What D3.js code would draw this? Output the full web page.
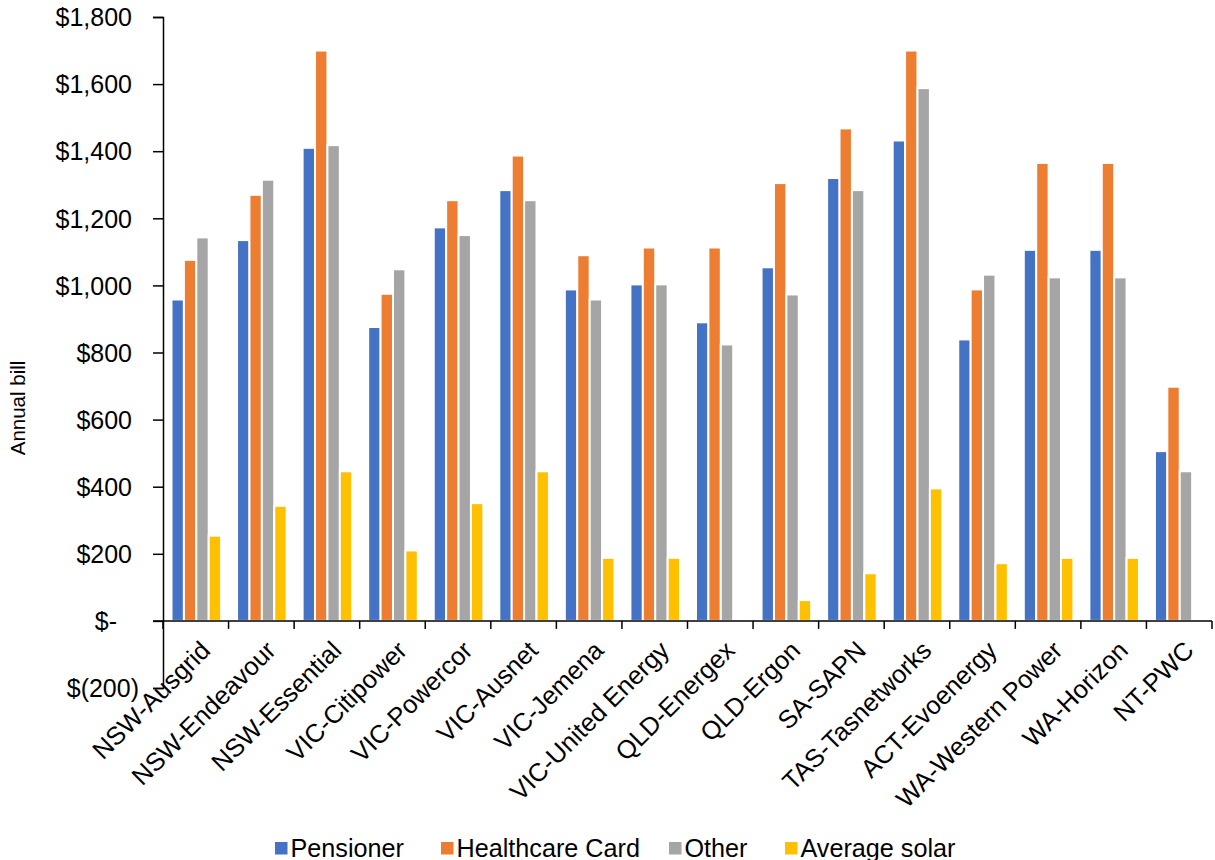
<!DOCTYPE html>
<html>
<head>
<meta charset="utf-8">
<script src="https://cdn.jsdelivr.net/npm/d3@7"></script>
<style>
  html, body { margin: 0; padding: 0; background: #fff; }
  svg { display: block; }
  text { font-family: "Liberation Sans", Arial, Helvetica, sans-serif; fill: #000; }
</style>
</head>
<body>
<div id="chart"></div>
<script>
// Annual electricity bill by network region and customer type
const categories = [
  "NSW-Ausgrid", "NSW-Endeavour", "NSW-Essential", "VIC-Citipower", "VIC-Powercor",
  "VIC-Ausnet", "VIC-Jemena", "VIC-United Energy", "QLD-Energex", "QLD-Ergon",
  "SA-SAPN", "TAS-Tasnetworks", "ACT-Evoenergy", "WA-Western Power", "WA-Horizon", "NT-PWC"
];
const seriesNames = ["Pensioner", "Healthcare Card", "Other", "Average solar"];
const pensioner  = [958, 1135, 1410, 876, 1173, 1284, 988, 1003, 890, 1054, 1320, 1432, 839, 1106, 1106, 506];
const healthcare = [1076, 1270, 1700, 975, 1254, 1387, 1090, 1113, 1113, 1305, 1468, 1700, 988, 1365, 1365, 698];
const other      = [1143, 1315, 1418, 1048, 1150, 1254, 958, 1003, 824, 973, 1284, 1588, 1032, 1024, 1024, 446];
const solar      = [254, 343, 446, 210, 351, 446, 188, 188, -5, 62, 142, 395, 172, 188, 188, null];
const yTicks = [-200, 0, 200, 400, 600, 800, 1000, 1200, 1400, 1600, 1800];
const colors = ["#4472C4", "#ED7D31", "#A5A5A5", "#FFC000"];

const seriesValues = [pensioner, healthcare, other, solar];

const W = 1215, H = 860;
const svg = d3.select("#chart").append("svg").attr("width", W).attr("height", H);

const plot = { left: 163, right: 1212, top: 17, bottom: 688 };

const y = d3.scaleLinear().domain([-200, 1800]).range([plot.bottom, plot.top]);
const x0 = d3.scaleBand().domain(categories).range([plot.left, plot.right]).padding(0);
const groupPad = 8.5, groupWidth = 49.6;
const x1 = d3.scaleBand().domain(seriesNames).range([groupPad, groupPad + groupWidth]).padding(0);

// bars
const groups = svg.append("g").selectAll("g")
  .data(categories)
  .join("g")
  .attr("transform", d => `translate(${x0(d)},0)`);

groups.selectAll("rect")
  .data((c, i) => seriesNames.map((s, k) => ({ s, k, v: seriesValues[k][i] })).filter(d => d.v !== null))
  .join("rect")
  .attr("x", d => x1(d.s))
  .attr("width", x1.bandwidth())
  .attr("y", d => y(Math.max(0, d.v)))
  .attr("height", d => Math.abs(y(d.v) - y(0)))
  .attr("fill", d => colors[d.k])
  .attr("stroke", "#fff")
  .attr("stroke-width", 2);

// value axis
const money = v => v === 0 ? "$-" : v < 0 ? `$(${d3.format(",")(-v)})` : "$" + d3.format(",")(v);
const yAxis = svg.append("g")
  .attr("transform", `translate(${plot.left},0)`)
  .call(d3.axisLeft(y).tickValues(yTicks).tickFormat(money).tickSize(10).tickPadding(0));
yAxis.select(".domain").attr("stroke", "#000").attr("stroke-width", 1.5);
yAxis.selectAll(".tick line").attr("stroke", "#000").attr("stroke-width", 1.5);
yAxis.selectAll(".tick text")
  .attr("font-size", 25)
  .attr("font-family", "'Liberation Sans', Arial, sans-serif")
  .attr("fill", "#000")
  .attr("x", d => d === 0 ? -46 : d < 0 ? -24 : -31)
  .attr("dy", "0.35em");

// category axis along zero
const xAxis = svg.append("g")
  .attr("transform", `translate(0,${y(0)})`);
xAxis.append("line")
  .attr("x1", plot.left - 10).attr("x2", plot.right)
  .attr("stroke", "#000").attr("stroke-width", 1.5);
xAxis.selectAll("line.tick")
  .data(categories.map(c => x0(c)).concat([plot.right]))
  .join("line")
  .attr("class", "tick")
  .attr("x1", d => d).attr("x2", d => d)
  .attr("y1", 0).attr("y2", 8)
  .attr("stroke", "#000").attr("stroke-width", 1.5);
xAxis.selectAll("text")
  .data(categories)
  .join("text")
  .attr("text-anchor", "end")
  .attr("font-size", 25.5)
  .attr("transform", d => `translate(${x0(d) + x0.bandwidth() / 2 + 16},${31}) rotate(-45)`)
  .text(d => d);

// axis title
svg.append("text")
  .attr("transform", `translate(25,408) rotate(-90)`)
  .attr("text-anchor", "middle")
  .attr("font-size", 20.5)
  .text("Annual bill");

// legend
const legendX = [275, 441, 669, 785];
const legend = svg.append("g").selectAll("g")
  .data(seriesNames)
  .join("g")
  .attr("transform", (d, i) => `translate(${legendX[i]},842)`);
legend.append("rect")
  .attr("width", 12.5).attr("height", 12.5)
  .attr("fill", (d, i) => colors[i]);
legend.append("text")
  .attr("x", 15.5).attr("y", 14.5)
  .attr("font-size", 25.2)
  .text(d => d);
</script>
</body>
</html>
